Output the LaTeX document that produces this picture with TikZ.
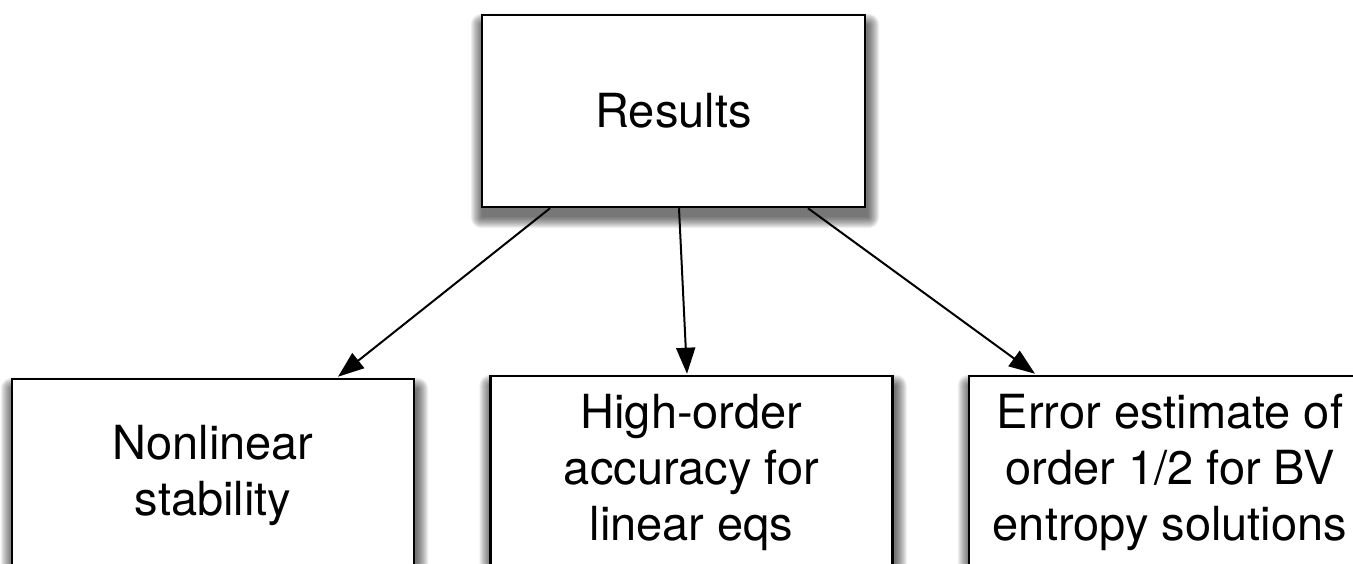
\documentclass[tikz,border=0pt]{standalone}
\usepackage{fontspec}
\setmainfont{TeX Gyre Heros}
\usetikzlibrary{arrows.meta,calc,backgrounds}
\tikzset{
  box/.style={draw=black, line width=2.5pt, fill=white, minimum width=383pt, minimum height=192pt,
    align=center, inner sep=0pt, font=\fontsize{47}{56}\selectfont},
  lowbox/.style={box, minimum width=402pt},
  conn/.style={line width=2pt, -{Triangle[length=26pt,width=19pt]}},
  shadelayer/.style={fill=black, opacity=0.06}
}
\newcommand\mysoftshadow[1]{%
  \foreach \r in {11,10,...,0}{%
    \fill[shadelayer, rounded corners=\r pt]
      ($(#1.south west)+(1-\r,-9-\r)$) rectangle ($(#1.north east)+(2+\r,-11+\r)$);
  }%
}
\begin{document}
\begin{tikzpicture}[x=1pt,y=1pt]
\useasboundingbox (0,0) rectangle (1353,563);
\clip (0,0) rectangle (1353,563);
\node[box] (res) at (673.5,452) {Results};
\node[lowbox] (nl) at (213,88) {Nonlinear\\stability};
\node[lowbox] (ho) at (691.5,91) {High-order\\accuracy for\\linear eqs};
\node[lowbox] (ee) at (1170,91) {Error estimate of\\order 1/2 for BV\\entropy solutions};
\begin{scope}[on background layer]
  \fill[white] (0,0) rectangle (1353,563);
  \mysoftshadow{res}
  \mysoftshadow{nl}
  \mysoftshadow{ho}
  \mysoftshadow{ee}
\end{scope}
\coordinate (s1) at ([xshift=-123.5pt]res.south);
\coordinate (s2) at ([xshift=5.5pt]res.south);
\coordinate (s3) at ([xshift=134.5pt]res.south);
\coordinate (e1) at ([xshift=125pt,yshift=1pt]nl.north);
\coordinate (e2) at ([xshift=-4.5pt,yshift=1pt]ho.north);
\coordinate (e3) at ([xshift=-135pt,yshift=1pt]ee.north);
\draw[conn] (s1) -- (e1);
\draw[conn] (s2) -- (e2);
\draw[conn] (s3) -- (e3);
\end{tikzpicture}
\end{document}
